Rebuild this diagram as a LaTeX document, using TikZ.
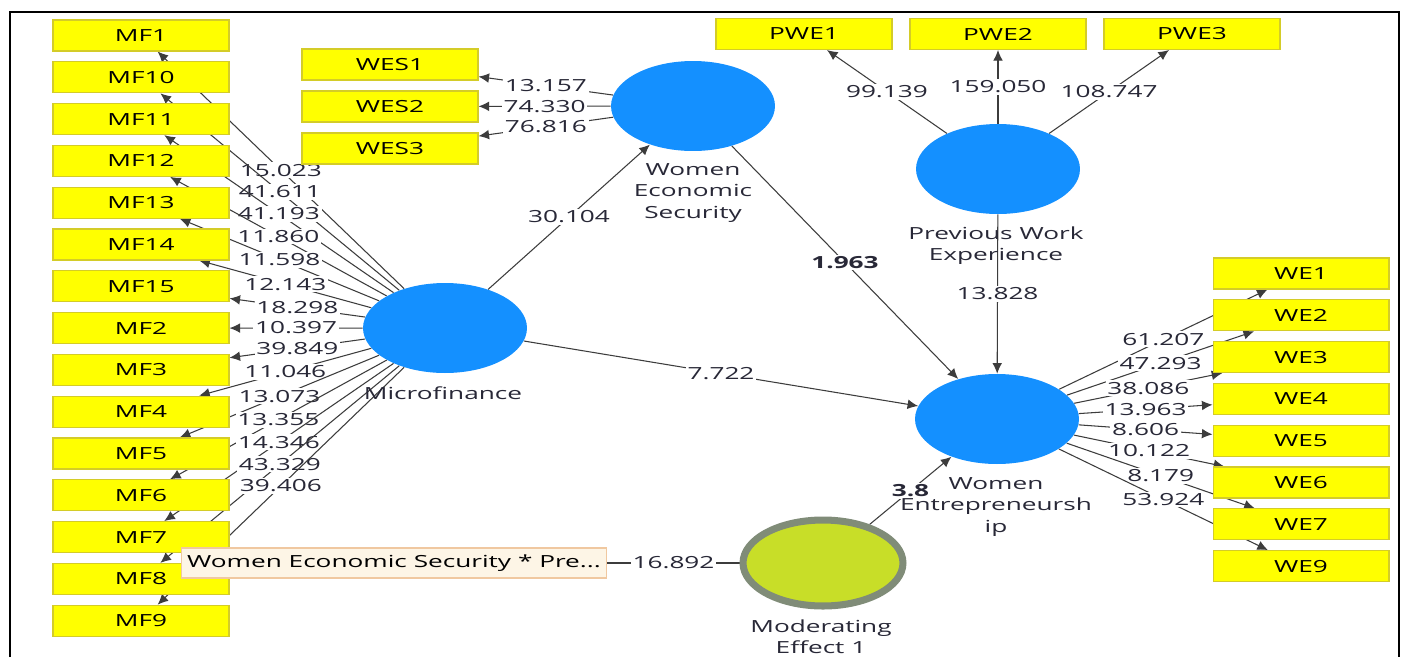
\documentclass[tikz,border=0pt]{standalone}
\usepackage{fontspec}
\setmainfont{Open Sans}[FakeStretch=1.57]
\usepackage{tikz}
\usetikzlibrary{shapes.geometric}
\usetikzlibrary{arrows.meta}
\pgfdeclarelayer{paper}
\pgfdeclarelayer{edges}
\pgfsetlayers{paper,edges,main}

\definecolor{boxyellow}{RGB}{255,255,0}
\definecolor{boxedge}{RGB}{212,204,40}
\definecolor{lvblue}{RGB}{20,144,255}
\definecolor{modgreen}{RGB}{200,222,40}
\definecolor{modgray}{RGB}{128,140,120}
\definecolor{tipfill}{RGB}{253,245,230}
\definecolor{tipedge}{RGB}{240,200,160}
\definecolor{linegray}{RGB}{60,60,60}
\definecolor{labelgray}{RGB}{40,40,55}

\begin{document}
\begin{tikzpicture}[x=0.02cm, y=-0.02cm,
  every node/.style={font=\fontsize{9.5}{12}\selectfont},
  ind/.style={draw=boxedge, fill=boxyellow, line width=0.6pt, minimum width=3.52cm, minimum height=0.62cm, inner sep=0pt},
  lv/.style={ellipse, fill=lvblue, minimum width=3.28cm, minimum height=1.8cm, inner sep=0pt},
  modlv/.style={ellipse, fill=modgreen, draw=modgray, line width=4pt, minimum width=3.2cm, minimum height=1.72cm, inner sep=0pt},
  coef/.style={fill=white, inner sep=1pt, text=labelgray},
  arr/.style={draw=linegray, line width=0.6pt, -{Latex[length=6pt,width=5.5pt]}},
  plain/.style={draw=linegray, line width=0.6pt},
  lvname/.style={align=center, text=labelgray}
]

\useasboundingbox (0,0) rectangle (1404,657);
\begin{pgfonlayer}{paper}
\fill[white] (0,0) rectangle (1404,657);
\end{pgfonlayer}
\draw[line width=1.2pt] (10,657) -- (10,12) -- (1399,12) -- (1399,657);

\node[lv] (mf) at (445,328) {};
\node[lv] (wes) at (693,106) {};
\node[lv] (pwe) at (998,169) {};
\node[lv] (we) at (997,419) {};
\node[modlv] (mod) at (823,563) {};

\foreach \lbl [count=\i] in {MF1,MF10,MF11,MF12,MF13,MF14,MF15,MF2,MF3,MF4,MF5,MF6,MF7,MF8,MF9}
  \node[ind] (m\i) at (141,{35.5+41.8*(\i-1)}) {\lbl};
\foreach \lbl [count=\i] in {WES1,WES2,WES3}
  \node[ind] (s\i) at (390,{64.5+42*(\i-1)}) {\lbl};
\foreach \lbl [count=\i] in {PWE1,PWE2,PWE3}
  \node[ind] (p\i) at ({804+194*(\i-1)},34) {\lbl};
\foreach \lbl [count=\i] in {WE1,WE2,WE3,WE4,WE5,WE6,WE7,WE9}
  \node[ind] (e\i) at (1301,{273.5+41.8*(\i-1)}) {\lbl};

\node[draw=tipedge, fill=tipfill, line width=0.6pt, minimum width=8.52cm, minimum height=0.6cm, inner sep=0pt] (wespwe) at (394,563) {Women Economic Security * Pre...};

\node[lvname] (wesname) at (693,193) {Women\\Economic\\Security};
\node[lvname] (mfname) at (443,393) {Microfinance};
\node[lvname] (pwename) at (996,246) {Previous Work\\Experience};
\node[lvname] (wename) at (996,507) {Women\\Entrepreneursh\\ip};
\node[lvname] (modname) at (821,637) {Moderating\\Effect 1};

\begin{pgfonlayer}{edges}
\foreach \v [count=\i] in {15.023,41.611,41.193,11.860,11.598,12.143,18.298,10.397,39.849,11.046,13.073,13.355,14.346,43.329,39.406}
  \draw[arr] (mf) -- node[coef] {\v} (m\i);
\foreach \v [count=\i] in {13.157,74.330,76.816}
  \draw[arr] (wes) -- node[coef] {\v} (s\i);
\foreach \v [count=\i] in {99.139,159.050,108.747}
  \draw[arr] (pwe) -- node[coef] {\v} (p\i);
\foreach \v [count=\i] in {61.207,47.293,38.086,13.963,8.606,10.122,8.179,53.924}
  \draw[arr] (we) -- node[coef] {\v} (e\i);

\draw[arr] (mf) -- node[coef] {30.104} (wes);
\draw[arr] (wes) -- node[coef, font=\fontsize{9.5}{12}\selectfont\bfseries] {1.963} (we);
\draw[arr] (mf) -- node[coef] {7.722} (we);
\draw[arr] (pwe) -- node[coef] {13.828} (we);
\draw[arr] (mod) -- node[coef, font=\fontsize{9.5}{12}\selectfont\bfseries] {3.8} (we);
\draw[plain] (wespwe) -- node[coef] {16.892} (mod);
\end{pgfonlayer}

\end{tikzpicture}
\end{document}
